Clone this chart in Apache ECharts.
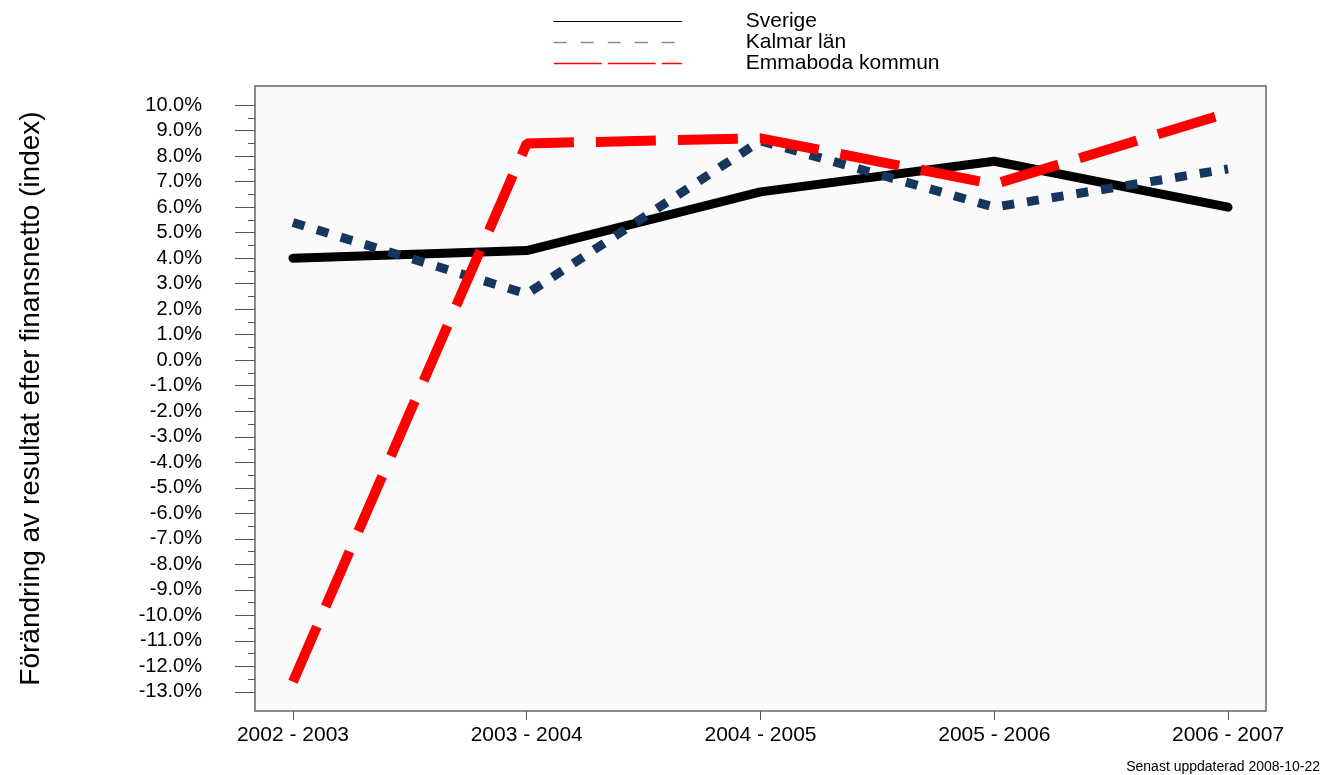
<!DOCTYPE html>
<html>
<head>
<meta charset="utf-8">
<script src="https://cdn.jsdelivr.net/npm/echarts@6/dist/echarts.min.js"></script>
<style>
  html, body { margin: 0; padding: 0; background: #fff; }
  #chart { width: 1323px; height: 775px; }
</style>
</head>
<body>
<div id="chart"></div>
<script>
// perioder och serier
var periods = ['2002 - 2003', '2003 - 2004', '2004 - 2005', '2005 - 2006', '2006 - 2007'];
var sverige = [4.0, 4.3, 6.6, 7.8, 6.0];
var kalmar = [5.4, 2.6, 8.6, 6.0, 7.5];
var emmaboda = [-12.6, 8.5, 8.7, 6.9, 9.7];
var yMajor = [-13, -12, -11, -10, -9, -8, -7, -6, -5, -4, -3, -2, -1, 0, 1, 2, 3, 4, 5, 6, 7, 8, 9, 10];
var yMinor = [-12.5, -11.5, -10.5, -9.5, -8.5, -7.5, -6.5, -5.5, -4.5, -3.5, -2.5, -1.5, -0.5,
              0.5, 1.5, 2.5, 3.5, 4.5, 5.5, 6.5, 7.5, 8.5, 9.5];
var xTicks = [0, 1, 2, 3, 4];

function pairs(arr) {
    return arr.map(function (v, i) { return [i, v]; });
}

var chart = echarts.init(document.getElementById('chart'));
var font = 'Arial, "Liberation Sans", sans-serif';

var option = {
    animation: false,
    textStyle: { fontFamily: font },
    grid: {
        left: 255, top: 86, right: 57, bottom: 64,
        show: true, backgroundColor: '#fafafa', borderColor: '#666', borderWidth: 1.5
    },
    legend: {
        orient: 'vertical',
        left: 553, top: 11, padding: 0,
        itemWidth: 128, itemHeight: 20, itemGap: 0,
        textStyle: { fontSize: 21, lineHeight: 20, color: '#000', padding: [0, 0, 0, 59], fontFamily: font },
        data: [
            { name: 'Sverige', itemStyle: { opacity: 0 }, lineStyle: { width: 1, color: '#000', type: 'solid' } },
            { name: 'Kalmar län', itemStyle: { opacity: 0 }, lineStyle: { width: 1.5, color: '#7f8fa6', type: [13, 14] } },
            { name: 'Emmaboda kommun', itemStyle: { opacity: 0 }, lineStyle: { width: 1.5, color: '#ff0000', type: [48, 6] } }
        ]
    },
    xAxis: {
        type: 'value',
        min: -0.1624, max: 4.1624,
        axisLine: { show: false, onZero: false },
        splitLine: { show: false },
        axisTick: { show: true, customValues: xTicks, length: 9, lineStyle: { color: '#555' } },
        axisLabel: {
            customValues: xTicks, fontSize: 21, color: '#000', margin: 14,
            formatter: function (v) { return periods[Math.round(v)]; }
        }
    },
    yAxis: [{
        type: 'value',
        min: -13.75, max: 10.75,
        name: 'Förändring av resultat efter finansnetto (index)',
        nameLocation: 'middle', nameGap: 210,
        nameTextStyle: { fontSize: 28, color: '#000', fontFamily: font },
        axisLine: { show: false, onZero: false },
        splitLine: { show: false },
        axisTick: { show: true, customValues: yMajor, length: 20, lineStyle: { color: '#555' } },
        axisLabel: {
            customValues: yMajor, fontSize: 20, color: '#000', margin: 53,
            formatter: function (v) { return v.toFixed(1) + '%'; }
        }
    }, {
        type: 'value',
        position: 'left',
        min: -13.75, max: 10.75,
        axisLine: { show: false, onZero: false },
        splitLine: { show: false },
        axisTick: { show: true, customValues: yMinor, length: 7, lineStyle: { color: '#555' } },
        axisLabel: { show: false }
    }],
    series: [
        {
            name: 'Sverige', type: 'line', symbol: 'none', z: 2,
            data: pairs(sverige),
            lineStyle: { color: '#000', width: 9, cap: 'round', join: 'round' }
        },
        {
            name: 'Kalmar län', type: 'line', symbol: 'none', z: 3,
            data: pairs(kalmar),
            lineStyle: { color: '#17365d', width: 9, type: [12, 13], cap: 'butt' }
        },
        {
            name: 'Emmaboda kommun', type: 'line', symbol: 'none', z: 4,
            data: pairs(emmaboda),
            lineStyle: { color: '#ff0000', width: 10, type: [60, 22], cap: 'butt' }
        }
    ],
    graphic: [{
        type: 'text', right: 3, top: 760,
        style: { text: 'Senast uppdaterad 2008-10-22', fontSize: 14, fill: '#000', font: '14px ' + font }
    }]
};
chart.setOption(option);
</script>
</body>
</html>
